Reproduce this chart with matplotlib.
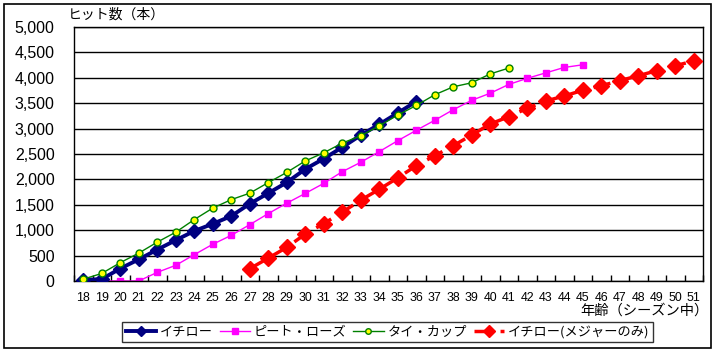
import numpy as np
from matplotlib import pyplot as plt
from matplotlib.patches import Rectangle

plt.rcParams['font.family'] = ['Liberation Sans', 'Noto Sans CJK JP', 'DejaVu Sans']
JP = ['Noto Sans CJK JP', 'DejaVu Sans']

ages = list(range(18, 52))

# cumulative hits by age (None = no data)
ichiro = [24, 36, 246, 425, 618, 803, 984, 1125, 1278, 1520, 1728, 1940,
          2202, 2408, 2632, 2870, 3083, 3308, 3533]
rose = [0, 0, 0, 0, 170, 309, 518, 723, 899, 1109, 1327, 1532, 1724, 1922,
        2152, 2337, 2547, 2762, 2966, 3164, 3372, 3557, 3697, 3869, 3990,
        4097, 4204, 4256]
cobb = [36, 149, 361, 549, 765, 961, 1209, 1435, 1602, 1729, 1937, 2138,
        2363, 2524, 2715, 2858, 3055, 3266, 3455, 3666, 3823, 3902, 4077, 4191]
# MLB only, starts at age 27
ichiro_mlb = [242, 450, 662, 924, 1130, 1354, 1592, 1805, 2030, 2270, 2467,
              2663, 2874, 3091, 3234, 3400, 3543, 3642, 3754, 3844, 3943,
              4041, 4140, 4238, 4331]

labels = ['イチロー', 'ピート・ローズ', 'タイ・カップ', 'イチロー(メジャーのみ)']


def pad(vals, start):
    out = [np.nan] * len(ages)
    for i, v in enumerate(vals):
        out[start - 18 + i] = v
    return out


W, H = 716, 353
fig = plt.figure(figsize=(W / 100, H / 100), dpi=100)
fig.patches.append(Rectangle((4 / W, 5 / H), 707 / W, 344 / H, transform=fig.transFigure,
                             fill=False, edgecolor='black', linewidth=1.2))

ax = fig.add_axes([74 / W, (H - 281) / H, (703 - 74) / W, (281 - 27) / H])
x = np.arange(len(ages))

ax.plot(x, pad(ichiro, 18), color='#000080', linewidth=2.8, marker='D',
        markersize=7, label=labels[0], zorder=3)
ax.plot(x, pad(rose, 18), color='#FF00FF', linewidth=1, marker='s',
        markersize=5, label=labels[1], zorder=2)
ax.plot(x, pad(cobb, 18), color='#008000', linewidth=1, marker='o',
        markersize=5, markerfacecolor='#FFFF00', markeredgecolor='#008000',
        markeredgewidth=1, label=labels[2], zorder=4)
ax.plot(x, pad(ichiro_mlb, 27), color='#FF0000', linewidth=2.5, dashes=(5, 2.5),
        marker='D', markersize=8, label=labels[3], zorder=3)

ax.set_xlim(-0.5, len(ages) - 0.5)
ax.set_ylim(0, 5000)
ax.set_yticks(range(0, 5001, 500))
ax.set_yticklabels([f'{v:,}' for v in range(0, 5001, 500)], fontsize=11.5)
ax.set_xticks(x)
ax.set_xticklabels([str(a) for a in ages], fontsize=8.9)
ax.set_xticks(np.arange(-0.5, len(ages), 1), minor=True)
ax.tick_params(axis='x', which='major', length=0, pad=8)
ax.tick_params(axis='x', which='minor', direction='in', length=4, width=1)
ax.tick_params(axis='y', length=0, pad=14)
ax.grid(axis='y', color='black', linewidth=1)
ax.set_axisbelow(True)
for s in ax.spines.values():
    s.set_color('black')
    s.set_linewidth(1)

fig.text(68 / W, 1 - 15 / H, 'ヒット数（本）', family=JP, fontsize=10,
         ha='left', va='center')
fig.text(709 / W, 1 - 311 / H, '年齢（シーズン中）', family=JP, fontsize=10.3,
         ha='right', va='center')

leg = fig.legend(loc='center', bbox_to_anchor=(387.5 / W, 1 - 332 / H), ncol=4,
                 prop={'family': JP, 'size': 9.5}, frameon=True, fancybox=False,
                 edgecolor='black', handlelength=2.3, columnspacing=0.5,
                 handletextpad=0.3, borderpad=0.25, borderaxespad=0,
                 markerscale=0.8)
leg.get_frame().set_linewidth(1)

fig.savefig('out.png', dpi=100)
